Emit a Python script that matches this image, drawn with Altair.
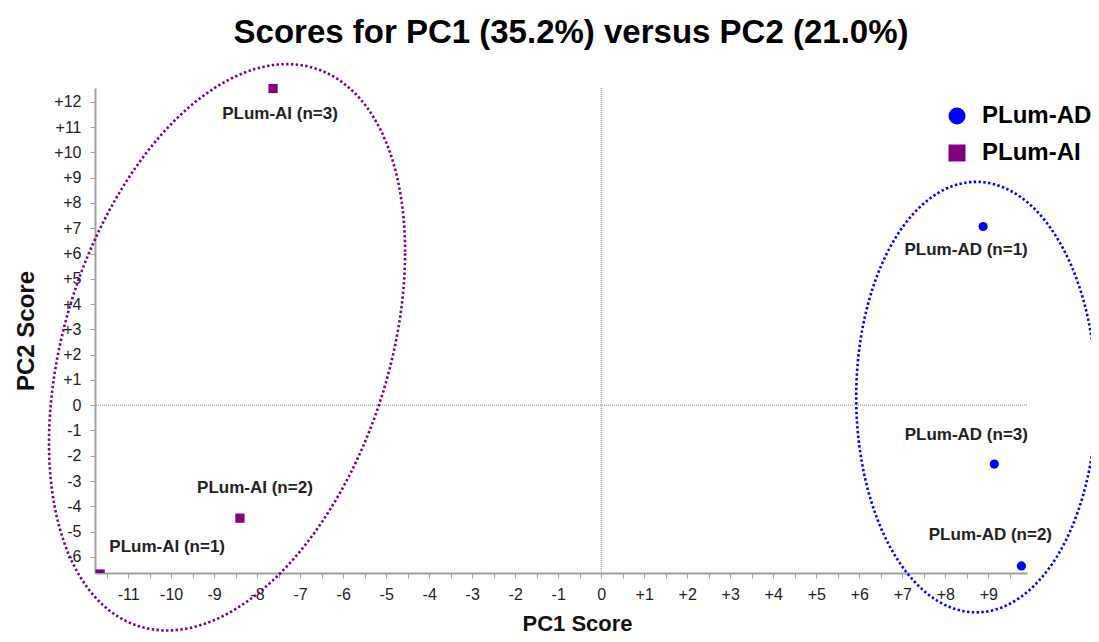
import altair as alt
import numpy as np
import pandas as pd

# ---- data ----
groups = ["PLum-AD", "PLum-AD", "PLum-AD", "PLum-AI", "PLum-AI", "PLum-AI"]
reps = [1, 2, 3, 1, 2, 3]
pc1 = [8.88, 9.77, 9.14, -11.65, -8.40, -7.63]
pc2 = [7.07, -6.36, -2.33, -6.68, -4.47, 12.53]

# label offsets (pixels) for each point label
label_dx = [-17, -31, -28, 67, 15, 7]
label_dy = [24, -31, -29, -27, -30, 25]

# ellipse parameters (data units): centre and covariance-like shape
ell_group = ["PLum-AD", "PLum-AI"]
ell_cx = [8.72, -8.70]
ell_cy = [0.32, 2.29]
ell_sxx = [7.79, 17.14]
ell_syy = [72.55, 125.56]
ell_sxy = [0.0, 15.64]

x_domain = [-11.77, 9.9]
y_domain = [-6.64, 12.55]
x_ticks = [v / 2 for v in range(-23, 20)]
y_ticks = list(range(-6, 13))

colors = ["#0000FF", "#800080"]
shapes = ["circle", "square"]
FONT = "Liberation Sans"

df = pd.DataFrame({"group": groups, "rep": reps, "pc1": pc1, "pc2": pc2})
df["label"] = [f"{g} (n={r})" for g, r in zip(groups, reps)]
df["edge"] = [v < y_domain[0] + 0.2 for v in pc2]

# ellipse outlines
rows = []
t = np.linspace(0, 2 * np.pi, 241)
for g, cx, cy, sxx, syy, sxy in zip(ell_group, ell_cx, ell_cy, ell_sxx, ell_syy, ell_sxy):
    l11 = np.sqrt(sxx)
    l21 = sxy / l11
    l22 = np.sqrt(syy - l21 ** 2)
    xs = cx + l11 * np.cos(t)
    ys = cy + l21 * np.cos(t) + l22 * np.sin(t)
    for i, (a, b) in enumerate(zip(xs, ys)):
        rows.append({"group": g, "i": i, "pc1": a, "pc2": b})
ell = pd.DataFrame(rows)

xscale = alt.Scale(domain=x_domain, nice=False, zero=False)
yscale = alt.Scale(domain=y_domain, nice=False, zero=False)

label_expr_x = ("abs(datum.value - round(datum.value)) > 0.01 ? '' : (datum.value > 0 ? '+' + format(datum.value, 'd') : "
                "(datum.value < 0 ? '-' + format(-datum.value, 'd') : '0'))")
label_expr_y = ("datum.value > 0 ? '+' + format(datum.value, 'd') : "
                "(datum.value < 0 ? '-' + format(-datum.value, 'd') : '0')")

x_axis = alt.Axis(
    title="PC1 Score", values=x_ticks, labelExpr=label_expr_x, grid=False,
    domainColor="#a0a0a0", domainWidth=2, tickColor="#a0a0a0", tickSize=5,
    labelFont=FONT, labelFontSize=16, labelColor="#222222", labelPadding=8,
    titleFont=FONT, titleFontSize=22, titleFontWeight="bold", titleColor="#111111",
    titlePadding=11, titleX=482, labelFlush=False, labelOverlap=False,
)
y_axis = alt.Axis(
    title="PC2 Score", values=y_ticks, labelExpr=label_expr_y, grid=False,
    domainColor="#a0a0a0", domainWidth=2, tickColor="#a0a0a0", tickSize=5,
    labelFont=FONT, labelFontSize=16, labelColor="#222222", labelPadding=9,
    titleFont=FONT, titleFontSize=24, titleFontWeight="bold", titleColor="#111111",
    titlePadding=15, labelFlush=False, labelOverlap=False,
)


def X(field):
    return alt.X(field, scale=xscale, axis=x_axis)


def Y(field):
    return alt.Y(field, scale=yscale, axis=y_axis)


color_enc = alt.Color("group:N", scale=alt.Scale(domain=ell_group, range=colors),
                      legend=alt.Legend(title=None, orient="none", legendX=850, legendY=16,
                                        labelFont=FONT, labelFontSize=24, labelFontWeight="bold",
                                        labelColor="#000000", symbolSize=289, symbolStrokeWidth=0,
                                        rowPadding=13, labelOffset=13, padding=0))
shape_enc = alt.Shape("group:N", scale=alt.Scale(domain=ell_group, range=shapes))

points = alt.Chart(df).transform_filter("!datum.edge").mark_point(
    filled=True, size=85, opacity=1).encode(
    x=X("pc1:Q"), y=Y("pc2:Q"), color=color_enc, shape=shape_enc)
points_edge = alt.Chart(df).transform_filter("datum.edge").mark_point(
    filled=True, size=85, opacity=1, clip=True).encode(
    x=X("pc1:Q"), y=Y("pc2:Q"), color=color_enc, shape=shape_enc)

zero_v = alt.Chart(pd.DataFrame({"pc1": [0]})).mark_rule(
    color="#888888", strokeWidth=1, strokeDash=[1, 1]).encode(x=X("pc1:Q"))
zero_h = alt.Chart(pd.DataFrame({"pc2": [0]})).mark_rule(
    color="#888888", strokeWidth=1, strokeDash=[1, 1]).encode(y=Y("pc2:Q"))

ell_layers = []
for g, c in zip(ell_group, colors):
    ell_layers.append(
        alt.Chart(ell[ell["group"] == g]).mark_line(
            color=c, strokeWidth=2.6, strokeDash=[2.4, 2.4], strokeCap="butt").encode(
            x=X("pc1:Q"), y=Y("pc2:Q"), order="i:Q")
    )

text_layers = []
for k in range(len(df)):
    text_layers.append(
        alt.Chart(df.iloc[[k]]).mark_text(
            font=FONT, fontSize=17, fontWeight="bold", color="#222222",
            dx=label_dx[k], dy=label_dy[k], align="center", baseline="middle").encode(
            x=X("pc1:Q"), y=Y("pc2:Q"), text="label:N")
    )

chart = alt.layer(points, points_edge, zero_v, zero_h, *ell_layers, *text_layers).properties(
    width=932, height=485,
    title=alt.Title("Scores for PC1 (35.2%) versus PC2 (21.0%)", font=FONT, fontSize=33,
                    fontWeight="bold", color="#000000", anchor="middle", offset=9, dx=10),
    autosize=alt.AutoSizeParams(type="none"),
    padding={"left": 87, "top": 80, "right": 64, "bottom": 61},
).configure(background="white").configure_view(stroke=None).configure_axis(labelOverlap=False)

chart.save("out.html", embed_options={"renderer": "svg", "actions": False})
